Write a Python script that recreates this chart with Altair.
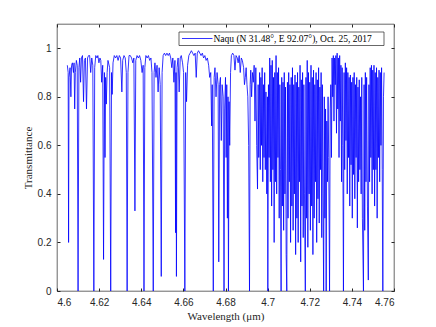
import altair as alt
import pandas as pd

# Transmittance spectrum, as (wavelength um, transmittance) vertices
band_r = [
    [4.6049, 0.93], [4.6053, 0.90], [4.6055, 0.20], [4.6057, 0.88], [4.6062, 0.92],
    [4.6066, 0.80], [4.6069, 0.93], [4.6073, 0.94], [4.6078, 0.90], [4.6081, 0.94],
    [4.6084, 0.75], [4.6087, 0.90], [4.6092, 0.95], [4.6096, 0.93], [4.6100, 0.00],
    [4.6104, 0.92], [4.6108, 0.96], [4.6112, 0.86], [4.6116, 0.96], [4.6121, 0.97],
    [4.6126, 0.78], [4.6130, 0.95], [4.6135, 0.96], [4.6140, 0.75], [4.6145, 0.96],
    [4.6150, 0.97], [4.6155, 0.97], [4.6160, 0.90], [4.6165, 0.96], [4.6170, 0.93],
    [4.6175, 0.00], [4.6179, 0.92], [4.6184, 0.97], [4.6190, 0.96], [4.6194, 0.97],
    [4.6199, 0.94], [4.6204, 0.96], [4.6208, 0.95], [4.6212, 0.86], [4.6217, 0.93],
    [4.6221, 0.13], [4.6225, 0.90], [4.6228, 0.55], [4.6231, 0.88], [4.6234, 0.77],
    [4.6238, 0.90], [4.6242, 0.95], [4.6250, 0.92], [4.6255, 0.00], [4.6259, 0.90],
    [4.6262, 0.81], [4.6266, 0.94], [4.6272, 0.97], [4.6278, 0.96], [4.6284, 0.97],
    [4.6290, 0.95], [4.6296, 0.97], [4.6302, 0.96], [4.6308, 0.82], [4.6312, 0.95],
    [4.6318, 0.97], [4.6324, 0.96], [4.6329, 0.90], [4.6333, 0.00], [4.6337, 0.90],
    [4.6342, 0.97], [4.6348, 0.97], [4.6354, 0.96], [4.6360, 0.94], [4.6365, 0.96],
    [4.6370, 0.33], [4.6374, 0.95], [4.6380, 0.97], [4.6386, 0.96], [4.6392, 0.97],
    [4.6398, 0.95], [4.6404, 0.90], [4.6409, 0.93], [4.6413, 0.00], [4.6417, 0.92],
    [4.6422, 0.97], [4.6428, 0.96], [4.6434, 0.97], [4.6440, 0.95], [4.6446, 0.96],
    [4.6451, 0.90], [4.6457, 0.00], [4.6461, 0.90], [4.6465, 0.94], [4.6470, 0.88],
    [4.6475, 0.93], [4.6480, 0.82], [4.6485, 0.92], [4.6490, 0.85], [4.6495, 0.06],
    [4.6499, 0.90], [4.6504, 0.97], [4.6510, 0.98], [4.6516, 0.97], [4.6522, 0.98],
    [4.6528, 0.97], [4.6534, 0.98], [4.6540, 0.96], [4.6545, 0.92], [4.6550, 0.96],
    [4.6555, 0.86], [4.6560, 0.95], [4.6563, 0.24], [4.6565, 0.90], [4.6567, 0.06],
    [4.6570, 0.92], [4.6575, 0.96], [4.6580, 0.82], [4.6585, 0.96], [4.6590, 0.97],
    [4.6596, 0.94], [4.6601, 0.90], [4.6607, 0.00], [4.6611, 0.90], [4.6615, 0.78],
    [4.6620, 0.93],
]

band_gap = [
    [4.6626, 0.97], [4.6632, 0.98], [4.6638, 0.99], [4.6644, 0.98], [4.6650, 0.97],
    [4.6656, 0.98], [4.6661, 0.88], [4.6666, 0.98], [4.6672, 0.99], [4.6678, 0.98],
    [4.6684, 0.97], [4.6690, 0.98], [4.6696, 0.96], [4.6702, 0.97], [4.6708, 0.95],
    [4.6714, 0.96], [4.6720, 0.93], [4.6725, 0.88], [4.6730, 0.90], [4.6734, 0.68],
    [4.6737, 0.85], [4.6742, 0.00], [4.6746, 0.88], [4.6750, 0.92], [4.6755, 0.80],
    [4.6760, 0.90], [4.6765, 0.85], [4.6768, 0.12], [4.6772, 0.85], [4.6776, 0.88],
    [4.6780, 0.62], [4.6784, 0.85], [4.6789, 0.80], [4.6793, 0.00], [4.6796, 0.75],
    [4.6800, 0.88], [4.6803, 0.55], [4.6806, 0.85], [4.6809, 0.30], [4.6812, 0.80],
    [4.6814, 0.00], [4.6817, 0.78], [4.6820, 0.60], [4.6824, 0.90], [4.6828, 0.97],
    [4.6834, 0.98], [4.6840, 0.97], [4.6845, 0.91], [4.6850, 0.97], [4.6856, 0.96],
    [4.6860, 0.94], [4.6865, 0.97], [4.6870, 0.90], [4.6875, 0.96], [4.6880, 0.95],
    [4.6886, 0.92], [4.6890, 0.85], [4.6894, 0.88], [4.6898, 0.92], [4.6902, 0.85],
    [4.6906, 0.80], [4.6910, 0.60], [4.6914, 0.00], [4.6917, 0.85], [4.6920, 0.91],
    [4.6924, 0.80], [4.6928, 0.90], [4.6932, 0.86],
]

band_dense = [
    [4.6936, 0.93], [4.6940, 0.70], [4.6944, 0.92], [4.6948, 0.60], [4.6952, 0.42],
    [4.6955, 0.85], [4.6958, 0.55], [4.6962, 0.90], [4.6965, 0.50], [4.6968, 0.88],
    [4.6971, 0.60], [4.6974, 0.92], [4.6977, 0.45], [4.6980, 0.85], [4.6983, 0.55],
    [4.6986, 0.90], [4.6989, 0.50], [4.6992, 0.82], [4.6996, 0.40], [4.6999, 0.80],
    [4.7001, 0.00], [4.7004, 0.85], [4.7007, 0.55], [4.7010, 0.96], [4.7013, 0.45],
    [4.7016, 0.93], [4.7019, 0.35], [4.7022, 0.95], [4.7025, 0.50], [4.7028, 0.88],
    [4.7031, 0.20], [4.7034, 0.90], [4.7037, 0.45], [4.7040, 0.97], [4.7043, 0.40],
    [4.7046, 0.90], [4.7049, 0.55], [4.7052, 0.92], [4.7055, 0.30], [4.7058, 0.85],
    [4.7061, 0.50], [4.7064, 0.00], [4.7067, 0.88], [4.7070, 0.35], [4.7073, 0.86],
    [4.7076, 0.25], [4.7079, 0.90], [4.7082, 0.40], [4.7085, 0.84], [4.7088, 0.15],
    [4.7091, 0.00], [4.7094, 0.86], [4.7097, 0.30], [4.7100, 0.90], [4.7103, 0.45],
    [4.7106, 0.85], [4.7109, 0.20], [4.7112, 0.88], [4.7115, 0.35], [4.7118, 0.92],
    [4.7121, 0.25], [4.7124, 0.85], [4.7127, 0.40], [4.7130, 0.89], [4.7133, 0.15],
    [4.7136, 0.86], [4.7139, 0.30], [4.7142, 0.90], [4.7145, 0.20], [4.7148, 0.84],
    [4.7151, 0.45], [4.7154, 0.93], [4.7157, 0.12], [4.7160, 0.87], [4.7163, 0.35],
    [4.7166, 0.90], [4.7169, 0.22], [4.7172, 0.85], [4.7175, 0.40], [4.7179, 0.00],
    [4.7182, 0.88], [4.7185, 0.30], [4.7188, 0.95], [4.7191, 0.18], [4.7194, 0.90],
    [4.7197, 0.40], [4.7200, 0.86], [4.7203, 0.25], [4.7206, 0.93], [4.7209, 0.35],
    [4.7212, 0.88], [4.7215, 0.15], [4.7218, 0.91], [4.7221, 0.30], [4.7224, 0.85],
    [4.7227, 0.45], [4.7230, 0.90], [4.7233, 0.20], [4.7236, 0.87], [4.7239, 0.38],
    [4.7242, 0.92], [4.7245, 0.28], [4.7248, 0.84], [4.7251, 0.50], [4.7254, 0.90],
    [4.7257, 0.22], [4.7260, 0.85], [4.7263, 0.40], [4.7266, 0.00], [4.7269, 0.80],
    [4.7272, 0.30], [4.7275, 0.75], [4.7278, 0.00], [4.7281, 0.70], [4.7284, 0.45],
    [4.7287, 0.80], [4.7290, 0.55], [4.7294, 0.00], [4.7297, 0.75], [4.7300, 0.85],
]

band_tail = [
    [4.7303, 0.55], [4.7306, 0.96], [4.7309, 0.80], [4.7312, 0.97], [4.7315, 0.70],
    [4.7318, 0.96], [4.7321, 0.85], [4.7324, 0.97], [4.7327, 0.65], [4.7330, 0.98],
    [4.7333, 0.75], [4.7336, 0.96], [4.7339, 0.55], [4.7342, 0.97], [4.7345, 0.70],
    [4.7348, 0.93], [4.7351, 0.45], [4.7354, 0.92], [4.7357, 0.60], [4.7360, 0.00],
    [4.7363, 0.90], [4.7366, 0.50], [4.7369, 0.94], [4.7372, 0.62], [4.7375, 0.92],
    [4.7378, 0.40], [4.7381, 0.90], [4.7384, 0.55], [4.7387, 0.88], [4.7390, 0.35],
    [4.7393, 0.89], [4.7396, 0.52], [4.7399, 0.86], [4.7402, 0.30], [4.7405, 0.88],
    [4.7408, 0.48], [4.7411, 0.90], [4.7414, 0.38], [4.7417, 0.85], [4.7420, 0.55],
    [4.7423, 0.88], [4.7426, 0.26], [4.7429, 0.84], [4.7432, 0.45], [4.7435, 0.87],
    [4.7438, 0.50], [4.7441, 0.80], [4.7444, 0.40], [4.7447, 0.88], [4.7450, 0.30],
    [4.7455, 0.00], [4.7458, 0.85], [4.7461, 0.25], [4.7464, 0.90], [4.7467, 0.45],
    [4.7470, 0.88], [4.7474, 0.35], [4.7478, 0.045], [4.7481, 0.85], [4.7484, 0.45],
    [4.7487, 0.92], [4.7490, 0.55], [4.7493, 0.93], [4.7496, 0.40], [4.7499, 0.91],
    [4.7502, 0.50], [4.7505, 0.93], [4.7508, 0.35], [4.7511, 0.90], [4.7514, 0.50],
    [4.7517, 0.92], [4.7520, 0.30], [4.7523, 0.88], [4.7526, 0.55], [4.7529, 0.91],
    [4.7532, 0.45], [4.7535, 0.90], [4.7538, 0.60], [4.7541, 0.92], [4.7544, 0.50],
    [4.7547, 0.00], [4.7550, 0.80], [4.7553, 0.90],
]

series_name = "Naqu (N 31.48°, E 92.07°), Oct. 25, 2017"
x_ticks = [4.6, 4.62, 4.64, 4.66, 4.68, 4.7, 4.72, 4.74, 4.76]
y_ticks = [0, 0.2, 0.4, 0.6, 0.8, 1]

rows = band_r + band_gap + band_dense + band_tail
df = pd.DataFrame(rows, columns=["wl", "tr"])
legend_df = pd.DataFrame({"label": [series_name]})

W, H = 337, 267
BLUE = "#0000ff"
GRAY = "#262626"
xs = alt.Scale(domain=[4.6, 4.76], nice=False, zero=False)
ys = alt.Scale(domain=[0, 1.1], nice=False)

base = alt.Chart(df)

main = base.mark_line(strokeWidth=0.8, color=BLUE, clip=True).encode(
    x=alt.X("wl:Q", scale=xs, axis=alt.Axis(
        values=x_ticks, format="~g", tickSize=0, domain=False, grid=False,
        labelPadding=6, labelFont="Liberation Sans", labelFontSize=10, labelColor=GRAY,
        title="Wavelength (μm)", titleFont="Liberation Serif", titleFontSize=11,
        titleFontWeight="normal", titleColor=GRAY, titlePadding=3)),
    y=alt.Y("tr:Q", scale=ys, axis=alt.Axis(
        values=y_ticks, format="~g", tickSize=0, domain=False, grid=False,
        labelPadding=6, labelFont="Liberation Sans", labelFontSize=10, labelColor=GRAY,
        title="Transmittance", titleFont="Liberation Serif", titleFontSize=11,
        titleFontWeight="normal", titleColor=GRAY, titlePadding=4)),
)

ticks_a = base.mark_line(opacity=0).encode(
    x=alt.X("wl:Q", scale=xs, axis=alt.Axis(orient="top", offset=-H, values=x_ticks,
            labels=False, domain=False, grid=False, tickSize=3, tickColor=GRAY, title=None)),
    y=alt.Y("tr:Q", scale=ys, axis=alt.Axis(orient="right", offset=-W, values=y_ticks,
            labels=False, domain=False, grid=False, tickSize=3, tickColor=GRAY, title=None)),
)

ticks_b = base.mark_line(opacity=0).encode(
    x=alt.X("wl:Q", scale=xs, axis=alt.Axis(orient="bottom", offset=-H, values=x_ticks,
            labels=False, domain=False, grid=False, tickSize=3, tickColor=GRAY, title=None)),
    y=alt.Y("tr:Q", scale=ys, axis=alt.Axis(orient="left", offset=-W, values=y_ticks,
            labels=False, domain=False, grid=False, tickSize=3, tickColor=GRAY, title=None)),
)

# legend box (MATLAB-style, inside the axes at top right)
leg_box = alt.Chart(legend_df).mark_rect(fill="white", stroke=GRAY, strokeWidth=0.7).encode(
    x=alt.value(122), x2=alt.value(327), y=alt.value(8), y2=alt.value(21.5)
)
leg_line = alt.Chart(legend_df).mark_rule(color=BLUE, strokeWidth=0.8).encode(
    x=alt.value(125), x2=alt.value(155.5), y=alt.value(14.5)
)
leg_text = alt.Chart(legend_df).mark_text(
    align="left", baseline="middle", font="Liberation Serif", fontSize=9.5, color="black"
).encode(x=alt.value(156.5), y=alt.value(14.8), text="label:N")

chart = alt.layer(main, ticks_a, ticks_b, leg_box, leg_line, leg_text).resolve_axis(
    x="independent", y="independent"
).properties(
    width=W, height=H,
    autosize=alt.AutoSizeParams(type="none"),
    padding={"left": 49, "top": 16, "right": 34, "bottom": 35},
    background="white",
).configure_view(stroke=GRAY, strokeWidth=0.7)

chart.save("out.html", embed_options={"renderer": "svg", "actions": False})
